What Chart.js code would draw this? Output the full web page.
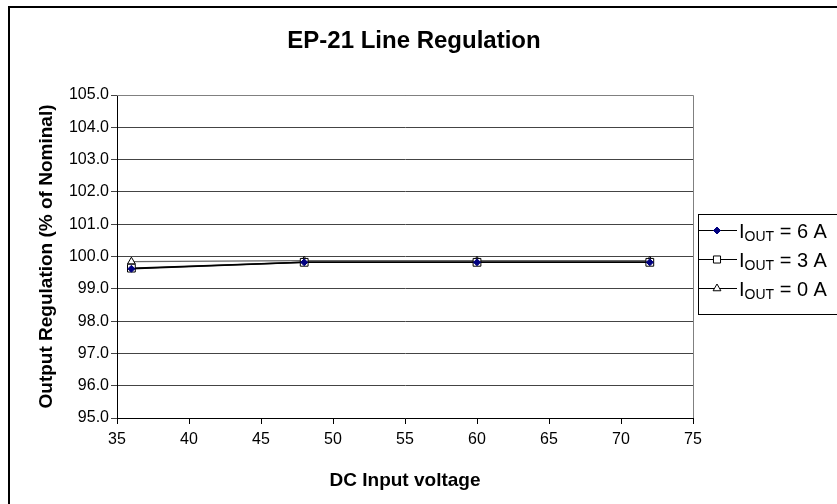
<!DOCTYPE html>
<html>
<head>
<meta charset="utf-8">
<title>EP-21 Line Regulation</title>
<script src="https://cdn.jsdelivr.net/npm/chart.js@4/dist/chart.umd.min.js"></script>
<style>
  html, body { margin: 0; padding: 0; background: #fff; }
  #wrap { position: relative; width: 837px; height: 504px; }
</style>
</head>
<body>
<div id="wrap"><canvas id="regChart" width="837" height="504"></canvas></div>
<script>
var chartTitle = 'EP-21 Line Regulation';
var inputVoltage = [36, 48, 60, 72];
var reg6A = [99.62, 99.82, 99.82, 99.82];
var reg3A = [99.64, 99.82, 99.82, 99.82];
var reg0A = [99.84, 99.87, 99.87, 99.87];
var xTicks = [35, 40, 45, 50, 55, 60, 65, 70, 75];
var yTicks = [95, 96, 97, 98, 99, 100, 101, 102, 103, 104, 105];
var legendNames = ['6 A', '3 A', '0 A'];

var FONT = '"Liberation Sans", Arial, sans-serif';

function toPoints(ys) {
  return inputVoltage.map(function (x, i) { return { x: x, y: ys[i] }; });
}

// outer frame, title, plot border and the legend (IOUT needs a subscript)
var framePlugin = {
  id: 'frame',
  beforeDraw: function (chart) {
    var ctx = chart.ctx;
    ctx.save();
    ctx.fillStyle = '#fff';
    ctx.fillRect(0, 0, chart.width, chart.height);
    ctx.strokeStyle = '#000';
    ctx.lineWidth = 2;
    ctx.beginPath();
    ctx.moveTo(9, chart.height + 2);
    ctx.lineTo(9, 7);
    ctx.lineTo(chart.width + 2, 7);
    ctx.stroke();

    ctx.fillStyle = '#000';
    ctx.font = 'bold 24px ' + FONT;
    ctx.textAlign = 'center';
    ctx.textBaseline = 'middle';
    ctx.fillText(chartTitle, 414, 41);
    ctx.restore();
  },
  afterDraw: function (chart) {
    var ctx = chart.ctx;
    var a = chart.chartArea;
    ctx.save();
    ctx.strokeStyle = '#808080';
    ctx.lineWidth = 1;
    ctx.beginPath();
    ctx.moveTo(a.left, a.top + 0.5);
    ctx.lineTo(a.right + 0.5, a.top + 0.5);
    ctx.lineTo(a.right + 0.5, a.bottom);
    ctx.stroke();

    var bx = a.right + 5, by = 214;
    ctx.strokeStyle = '#000';
    ctx.strokeRect(bx + 0.5, by + 0.5, 200, 100);
    var styles = ['rectRot', 'rect', 'triangle'];
    var radii = [3.5, 5, 4.5];
    var fills = ['#000080', '#fff', '#fff'];
    var strokes = ['#000080', '#000', '#000'];
    legendNames.forEach(function (name, i) {
      var y = by + 16 + i * 29;
      ctx.strokeStyle = '#000';
      ctx.lineWidth = 1;
      ctx.beginPath();
      ctx.moveTo(bx, y + 0.5);
      ctx.lineTo(bx + 39, y + 0.5);
      ctx.stroke();
      ctx.fillStyle = fills[i];
      ctx.strokeStyle = strokes[i];
      Chart.helpers.drawPoint(ctx, { pointStyle: styles[i], radius: radii[i], borderWidth: 1, rotation: 0 }, bx + 19, y + 0.5);
      ctx.fillStyle = '#000';
      ctx.textBaseline = 'alphabetic';
      ctx.textAlign = 'left';
      var tx = bx + 41;
      var base = y + 8;
      ctx.font = '20px ' + FONT;
      ctx.fillText('I', tx, base);
      tx += ctx.measureText('I').width;
      ctx.font = '14px ' + FONT;
      ctx.fillText('OUT', tx, base + 3);
      tx += ctx.measureText('OUT').width;
      ctx.font = '20px ' + FONT;
      ctx.fillText(' = ' + name, tx, base);
    });
    ctx.restore();
  }
};

new Chart(document.getElementById('regChart'), {
  type: 'line',
  data: {
    datasets: [
      { label: 'IOUT = 6 A', data: toPoints(reg6A), borderColor: '#000', borderWidth: 1.5,
        pointStyle: 'rectRot', pointRadius: 3.5, pointBackgroundColor: '#000080', pointBorderColor: '#000080', pointBorderWidth: 1 },
      { label: 'IOUT = 3 A', data: toPoints(reg3A), borderColor: '#000', borderWidth: 1.5,
        pointStyle: 'rect', pointRadius: 5.5, pointBackgroundColor: '#fff', pointBorderColor: '#000', pointBorderWidth: 1 },
      { label: 'IOUT = 0 A', data: toPoints(reg0A), borderColor: '#666', borderWidth: 1.2,
        pointStyle: 'triangle', pointRadius: 4.5, pointBackgroundColor: '#fff', pointBorderColor: '#000', pointBorderWidth: 1 }
    ]
  },
  options: {
    responsive: false,
    animation: false,
    events: [],
    layout: { padding: { left: 0, right: 144, top: 95, bottom: 0 } },
    plugins: {
      legend: { display: false },
      tooltip: { enabled: false },
      title: { display: false }
    },
    scales: {
      x: {
        type: 'linear',
        min: 35, max: 75,
        afterBuildTicks: function (s) { s.ticks = xTicks.map(function (v) { return { value: v }; }); },
        afterFit: function (s) { s.height = 86; },
        ticks: { color: '#000', padding: 6, maxRotation: 0, font: { family: FONT, size: 16 } },
        grid: { drawOnChartArea: false, drawTicks: true, tickLength: 6, color: '#000' },
        border: { display: true, color: '#000', width: 1 },
        title: { display: true, text: 'DC Input voltage', color: '#000',
          font: { family: FONT, size: 19, weight: 'bold' },
          padding: { top: 0, bottom: 12 } }
      },
      y: {
        min: 95, max: 105,
        afterBuildTicks: function (s) { s.ticks = yTicks.map(function (v) { return { value: v }; }); },
        afterFit: function (s) { s.width = 117; },
        ticks: { color: '#000', padding: 2, font: { family: FONT, size: 16 },
          callback: function (v) { return Number(v).toFixed(1); } },
        grid: { color: '#444', lineWidth: 1, tickLength: 6 },
        border: { display: true, color: '#000', width: 1 },
        title: { display: true, text: 'Output Regulation (% of Nominal)', color: '#000',
          font: { family: FONT, size: 19, weight: 'bold' },
          padding: { top: 35, bottom: 0 } }
      }
    }
  },
  plugins: [framePlugin]
});
</script>
</body>
</html>
